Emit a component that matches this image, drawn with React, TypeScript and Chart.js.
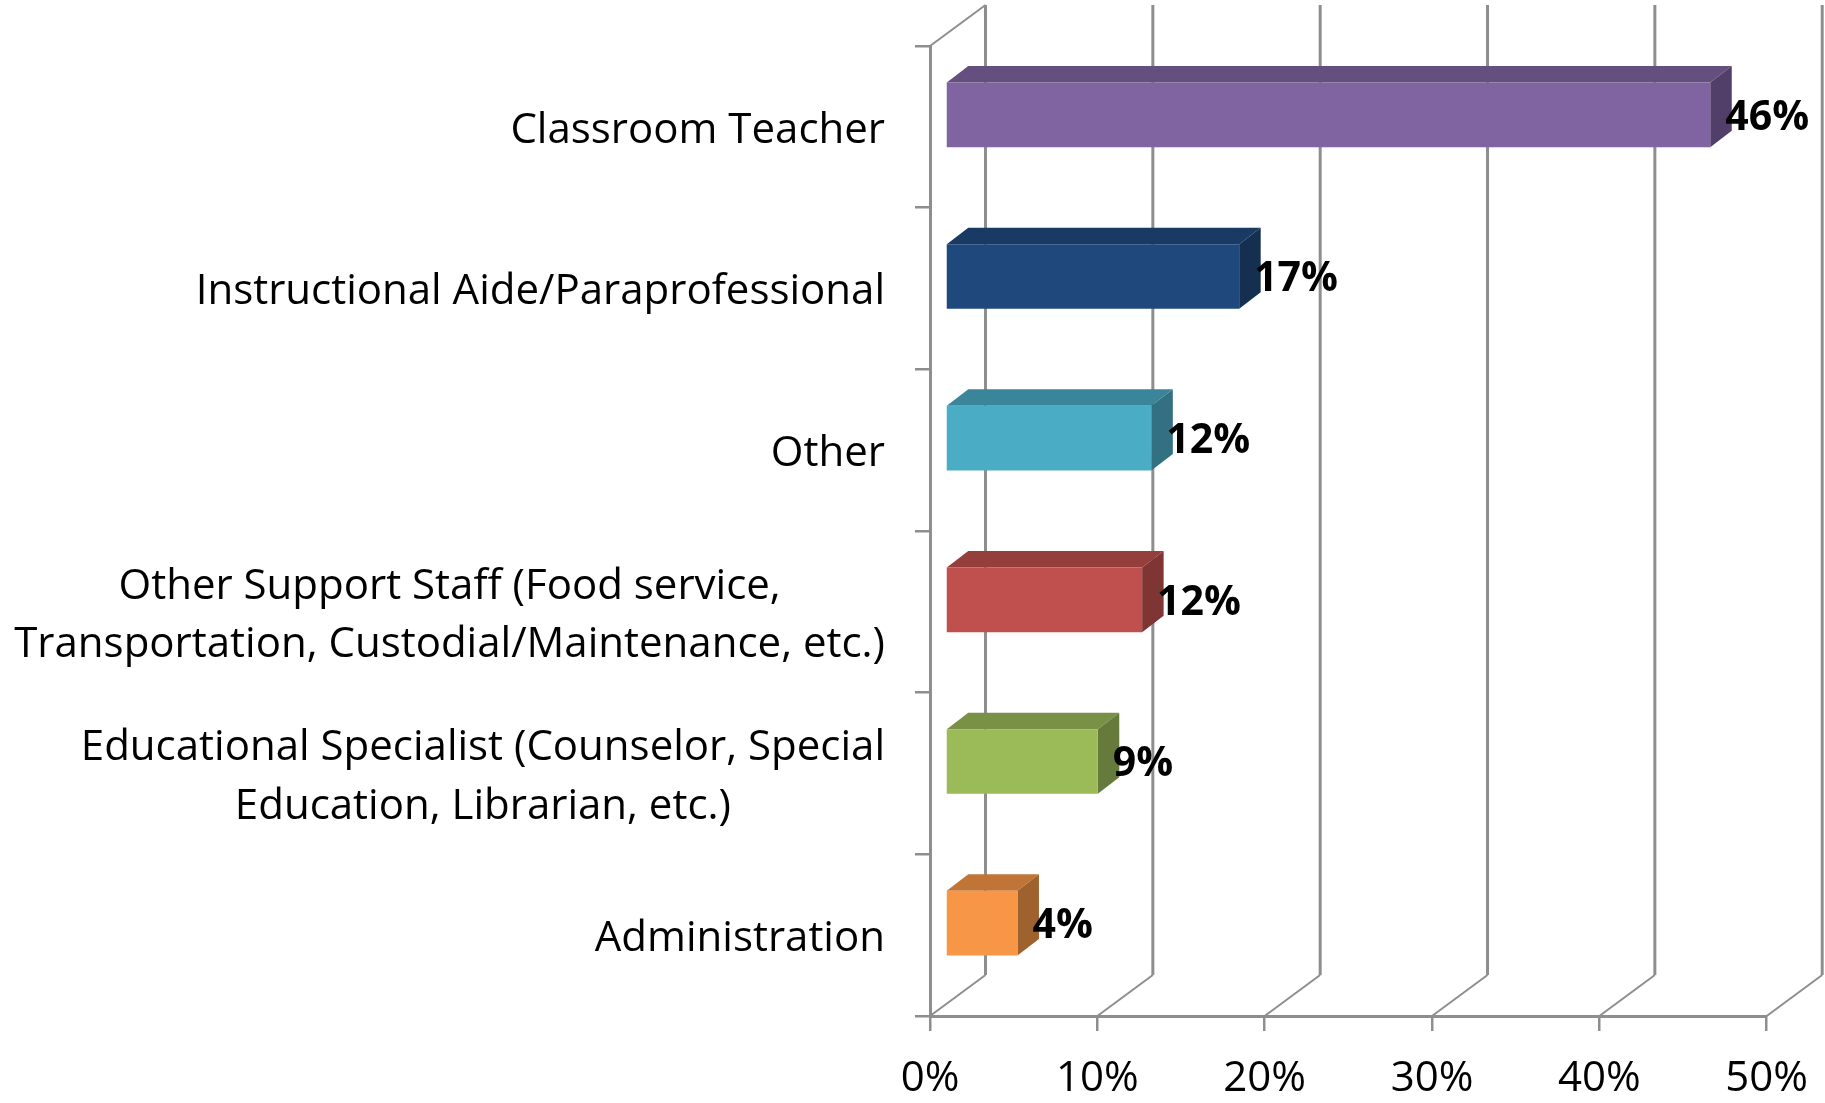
import React, { useEffect, useRef } from "react";
import { Chart, registerables } from "chart.js";

Chart.register(...registerables);

const categories = [
  ["Classroom Teacher"],
  ["Instructional Aide/Paraprofessional"],
  ["Other"],
  ["Other Support Staff (Food service,", "Transportation, Custodial/Maintenance, etc.)"],
  ["Educational Specialist (Counselor, Special", "Education, Librarian, etc.)"],
  ["Administration"],
];
const values = [45.7, 17.55, 12.3, 11.75, 9.1, 4.3];
const dataLabels = ["46%", "17%", "12%", "12%", "9%", "4%"];
const frontColors = ["#8064A2", "#1F497D", "#4BACC6", "#C0504D", "#9BBB59", "#F79646"];
const topColors = ["#644F7E", "#183A63", "#3B859A", "#953F3D", "#799146", "#C07536"];
const sideColors = ["#523F69", "#142F50", "#327082", "#7F3533", "#667B3B", "#9F622E"];
const xTicks = { min: 0, max: 50, stepSize: 10 };

const GRID = "#8E8E8E";
const FONT = "'Open Sans'";
const LABEL_SIZE = 42;
const TICK_SIZE = 42;
const VALUE_SIZE = 41;
const WALL_DX = 55.5;
const WALL_DY = 41;
const BAR_SHIFT_X = 15.5;
const BAR_SHIFT_Y = -12;
const BAR_DX = 21.5;
const BAR_DY = 16.5;

const chart3d = {
  id: "chart3d",
  beforeDatasetsDraw(chart: any) {
    const { ctx, scales } = chart;
    const x = scales.x;
    const y = scales.y;
    const top = y.top;
    const bottom = y.bottom;
    ctx.save();
    ctx.strokeStyle = GRID;
    x.ticks.forEach((_: any, i: number) => {
      const px = x.getPixelForTick(i);
      ctx.lineWidth = 2;
      ctx.beginPath();
      ctx.moveTo(px, bottom);
      ctx.lineTo(px + WALL_DX, bottom - WALL_DY);
      ctx.stroke();
      ctx.lineWidth = 3;
      ctx.beginPath();
      ctx.moveTo(px + WALL_DX, bottom - WALL_DY);
      ctx.lineTo(px + WALL_DX, top - WALL_DY);
      ctx.stroke();
    });
    ctx.lineWidth = 2;
    ctx.beginPath();
    ctx.moveTo(x.left, top);
    ctx.lineTo(x.left + WALL_DX, top - WALL_DY);
    ctx.stroke();
    ctx.restore();
  },
  beforeDatasetDraw(chart: any, args: any) {
    const { ctx } = chart;
    const meta = chart.getDatasetMeta(args.index);
    ctx.save();
    ctx.translate(BAR_SHIFT_X, BAR_SHIFT_Y);
    meta.data.forEach((el: any, i: number) => {
      const t = el.y - el.height / 2;
      const b = el.y + el.height / 2;
      ctx.fillStyle = topColors[i];
      ctx.beginPath();
      ctx.moveTo(el.base, t);
      ctx.lineTo(el.base + BAR_DX, t - BAR_DY);
      ctx.lineTo(el.x + BAR_DX, t - BAR_DY);
      ctx.lineTo(el.x, t);
      ctx.closePath();
      ctx.fill();
      ctx.fillStyle = sideColors[i];
      ctx.beginPath();
      ctx.moveTo(el.x, t);
      ctx.lineTo(el.x + BAR_DX, t - BAR_DY);
      ctx.lineTo(el.x + BAR_DX, b - BAR_DY);
      ctx.lineTo(el.x, b);
      ctx.closePath();
      ctx.fill();
    });
  },
  afterDatasetDraw(chart: any) {
    chart.ctx.restore();
  },
  afterDraw(chart: any) {
    const { ctx, scales } = chart;
    const y = scales.y;
    const meta = chart.getDatasetMeta(0);
    ctx.save();
    ctx.fillStyle = "#000";
    ctx.textBaseline = "middle";

    // category labels: block aligned right, lines centred inside the block
    ctx.font = `${LABEL_SIZE}px ${FONT}`;
    categories.forEach((lines, i) => {
      const cy = y.getPixelForTick(i) + 4;
      const right = 885;
      const widths = lines.map((l) => ctx.measureText(l).width);
      const blockW = Math.max(...widths);
      const lh = 58.5;
      ctx.textAlign = "center";
      lines.forEach((l, j) => {
        ctx.fillText(l, right - blockW / 2, cy + (j - (lines.length - 1) / 2) * lh);
      });
    });

    // data labels
    ctx.font = `bold ${VALUE_SIZE}px ${FONT}`;
    ctx.textAlign = "left";
    meta.data.forEach((el: any, i: number) => {
      ctx.fillText(dataLabels[i], el.x + BAR_SHIFT_X + 15, el.y + BAR_SHIFT_Y + 3);
    });
    ctx.restore();
  },
};

export default function App() {
  const ref = useRef<HTMLCanvasElement>(null);
  useEffect(() => {
    document.body.style.margin = "0";
    const chart = new Chart(ref.current as HTMLCanvasElement, {
      type: "bar",
      data: {
        labels: categories as any,
        datasets: [
          {
            data: values,
            backgroundColor: frontColors,
            barPercentage: 0.4,
            categoryPercentage: 1,
            clip: false as any,
          },
        ],
      },
      plugins: [chart3d],
      options: {
        indexAxis: "y",
        animation: false,
        responsive: false,
        layout: { padding: { left: 0, right: 58.3, top: 46, bottom: 0 } },
        plugins: { legend: { display: false }, tooltip: { enabled: false }, title: { display: false } },
        scales: {
          x: {
            type: "linear",
            min: xTicks.min,
            max: xTicks.max,
            afterFit(s: any) {
              s.height = 87;
              s.paddingLeft = 0;
              s.paddingRight = 0;
            },
            ticks: {
              stepSize: xTicks.stepSize,
              maxRotation: 0,
              padding: 23,
              color: "#000",
              font: { family: FONT, size: TICK_SIZE },
              callback: (v: any) => `${v}%`,
            },
            grid: { drawOnChartArea: false, drawTicks: true, tickLength: 15, color: GRID, lineWidth: 2.5 },
            border: { display: true, color: GRID, width: 3 },
          },
          y: {
            type: "category",
            afterFit(s: any) {
              s.width = 930;
            },
            ticks: { display: false },
            grid: { drawOnChartArea: false, drawTicks: true, tickLength: 15, color: GRID, lineWidth: 2.5, offset: true },
            border: { display: true, color: GRID, width: 3 },
          },
        },
      } as any,
    });
    return () => chart.destroy();
  }, []);
  return (
    <div style={{ width: 1825, height: 1103, background: "#fff" }}>
      <canvas ref={ref} width={1825} height={1103} style={{ display: "block" }} />
    </div>
  );
}
